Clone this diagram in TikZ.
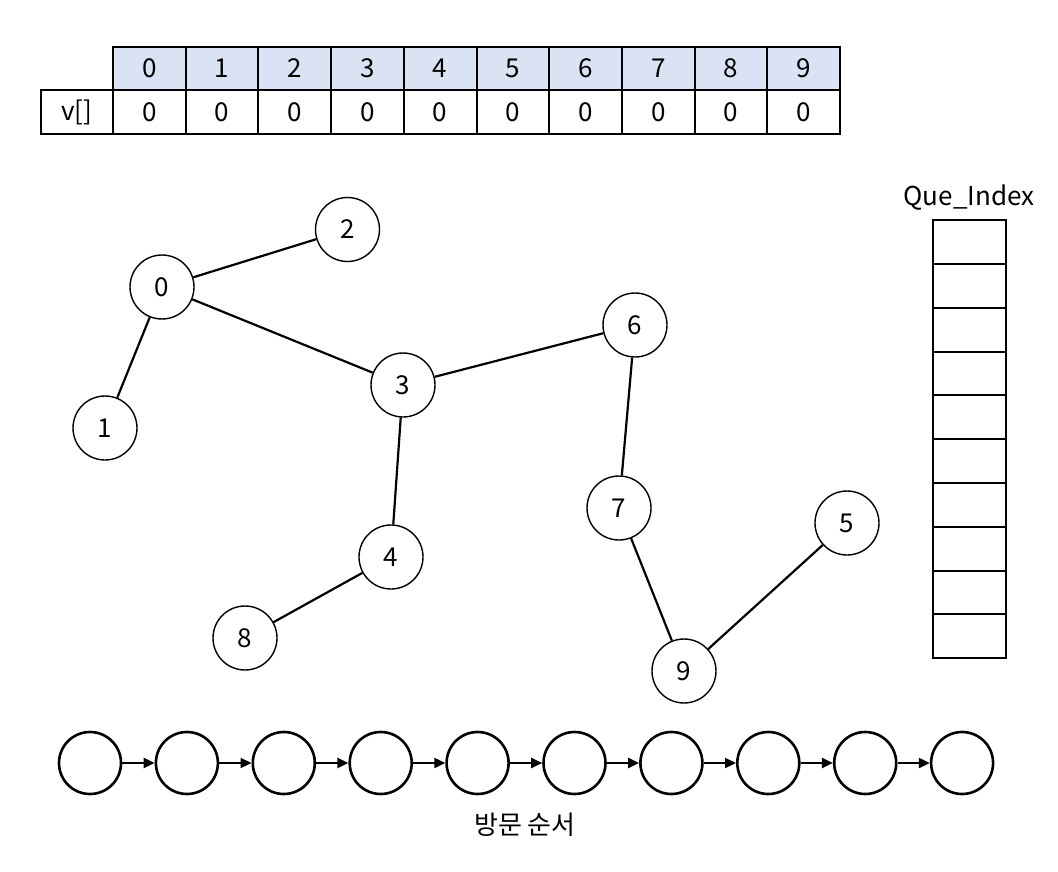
\documentclass[tikz,border=0pt]{standalone}
\usepackage{fontspec}
\setmainfont{Noto Sans CJK KR}
\usetikzlibrary{arrows.meta,positioning}
\definecolor{hdrblue}{HTML}{DAE3F3}

\begin{document}
\begin{tikzpicture}[
  x=1pt, y=-1pt,
  >={Triangle[length=11pt,width=10pt]},
  every node/.style={font=\fontsize{26}{30}\selectfont},
  vertex/.style={draw, circle, line width=1.4pt, minimum size=64pt,
              inner sep=0pt},
  visit/.style={draw, circle, line width=2.6pt, minimum size=62pt,
              inner sep=0pt},
  hdrcell/.style={draw, line width=2pt, fill=hdrblue,
              minimum width=72.7pt, minimum height=43.5pt, inner sep=0pt},
  valcell/.style={draw, line width=2pt,
              minimum width=72.7pt, minimum height=43.5pt, inner sep=0pt},
  quecell/.style={draw, line width=2pt,
              minimum width=73pt, minimum height=43.8pt, inner sep=0pt},
  edge/.style={line width=2.2pt},
]
  \useasboundingbox (0,0) rectangle (1058,872);

  % visited array v[]
  \node[valcell] (vlabel) at (77, 112.2) {v[]};
  \foreach \i in {0,...,9} {
    \node[hdrcell] (h\i) at (149.35+72.7*\i, 68.5) {\i};
    \node[valcell] (v\i) at (149.35+72.7*\i, 112.2) {0};
  }

  % queue
  \node (quelabel) at (969, 198) {Que\_Index};
  \foreach \i in {0,...,9}
    \node[quecell] (q\i) at (969.5, 242+43.8*\i) {};

  % graph
  \node[vertex] (n0) at (162, 287) {0};
  \node[vertex] (n2) at (347.5, 229.5) {2};
  \node[vertex] (n1) at (105, 428) {1};
  \node[vertex] (n3) at (403, 385) {3};
  \node[vertex] (n6) at (635, 325) {6};
  \node[vertex] (n7) at (619, 508) {7};
  \node[vertex] (n5) at (847, 523) {5};
  \node[vertex] (n4) at (391, 557) {4};
  \node[vertex] (n8) at (245, 638) {8};
  \node[vertex] (n9) at (684, 671) {9};

  \draw[edge] (n0) -- (n2);
  \draw[edge] (n0) -- (n1);
  \draw[edge] (n0) -- (n3);
  \draw[edge] (n3) -- (n6);
  \draw[edge] (n3) -- (n4);
  \draw[edge] (n4) -- (n8);
  \draw[edge] (n6) -- (n7);
  \draw[edge] (n7) -- (n9);
  \draw[edge] (n9) -- (n5);

  % visiting order
  \foreach \i in {0,...,9}
    \node[visit] (o\i) at (90+96.9*\i, 763) {};
  \foreach \i [evaluate=\i as \j using int(\i+1)] in {0,...,8}
    \draw[->, edge] (o\i) -- (o\j);

  \node (order) at (525, 825) {방문 순서};
\end{tikzpicture}
\end{document}
